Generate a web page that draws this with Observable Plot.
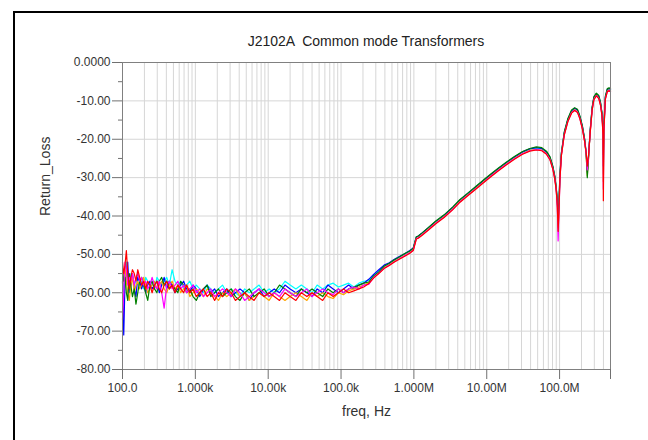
<!DOCTYPE html>
<html>
<head>
<meta charset="utf-8">
<script src="https://cdn.jsdelivr.net/npm/d3@7"></script>
<script src="https://cdn.jsdelivr.net/npm/@observablehq/plot@0.6"></script>
<style>
  html, body { margin: 0; padding: 0; background: #fff; }
  #wrap { position: relative; width: 648px; height: 440px; overflow: hidden; font-family: "Liberation Sans", Arial, sans-serif; }
  #border { position: absolute; left: 13px; top: 11px; width: 700px; height: 500px; border-left: 2px solid #000; border-top: 2px solid #000; }
  #title { position: absolute; left: 122px; width: 488px; top: 33px; text-align: center; font-size: 14px; color: #222; white-space: pre; }
  #chart { position: absolute; left: 0; top: 0; }
</style>
</head>
<body>
<div id="wrap">
  <div id="border"></div>
  <div id="chart"></div>
  <div id="title">J2102A  Common mode Transformers</div>
</div>
<script>
// ---- data ----
const seriesNames = ["cyan", "blue", "orange", "green", "magenta", "red"];
const seriesColors = ["#56b4e4", "#2b3fa6", "#ee8a22", "#3c9e34", "#e0208e", "#e8202a"];

const xTickValues = [1e2, 1e3, 1e4, 1e5, 1e6, 1e7, 1e8, 5e8];
const xTickLabels = ["100.0", "1.000k", "10.00k", "100.0k", "1.000M", "10.00M", "100.0M", "500.0M"];
const yTickValues = [0, -10, -20, -30, -40, -50, -60, -70, -80];
const yTickLabels = ["0.0000", "-10.00", "-20.00", "-30.00", "-40.00", "-50.00", "-60.00", "-70.00", "-80.00"];
const yMinorTicks = [-5, -15, -25, -35, -45, -55, -65, -75];

// frequencies (Hz), low-frequency noisy region
const fLow = [100,104,108,113,118,124,130,137,145,153,162,172,183,195,208,222,238,255,275,297,320,345,373,405,440,480,525,575,630,690,760,840,930,1030,1150,1290,1450,1630,1840,2080,2360,2700,3100,3550,4100,4750,5500,6400,7500,8800,10300,12100,14300,17000,20000,24000,28500,34000,40000,47000,56000,66000,78000,92000,108000,127000,150000,176000,205000];
// frequencies (Hz), rising / resonant region
const fHigh = [240e3,280e3,330e3,390e3,460e3,540e3,640e3,760e3,880e3,980e3,1.08e6,1.15e6,1.3e6,1.6e6,2.0e6,2.6e6,3.4e6,4.3e6,5.6e6,7.2e6,9.2e6,11.5e6,14.5e6,18.5e6,24e6,31e6,39e6,48e6,57e6,66e6,74e6,81e6,86e6,90e6,93e6,95.5e6,98e6,101e6,106e6,116e6,130e6,146e6,161e6,176e6,190e6,206e6,221e6,232e6,240e6,249e6,263e6,280e6,296e6,320e6,345e6,365e6,382e6,394e6,399e6,406e6,425e6,452e6,478e6,500e6];

// Return loss (dB) per trace — low region
const blueLow = [-57,-71,-58,-55,-52,-60,-58,-55,-59,-61,-56,-57,-59,-57,-60,-58,-57,-59,-58,-57,-60,-58,-56,-59,-57,-58,-60,-59,-58,-57,-59,-60,-58,-59,-61,-59,-58,-60,-59,-61,-60,-59,-61,-60,-59,-60,-62,-60,-59,-61,-60,-59,-60,-58,-59,-60,-59,-60,-61,-59,-60,-58,-59,-60,-59,-58,-59,-58,-57.5];
const cyanLow = [-56,-60,-54,-52,-56,-58,-55,-56,-58,-57,-55,-58,-57,-59,-56,-57,-58,-57,-59,-56,-57,-58,-57,-56,-58,-54,-57,-58,-57,-59,-58,-57,-59,-58,-59,-60,-58,-59,-60,-59,-58,-60,-59,-60,-61,-59,-60,-59,-58,-60,-59,-60,-59,-57,-58,-59,-58,-59,-60,-58,-59,-58,-57.5,-58.5,-58,-57.5,-58.5,-57.5,-57];
const greenLow = [-54,-57,-56,-60,-62,-55,-58,-61,-59,-63,-60,-57,-56,-58,-60,-62,-58,-57,-59,-60,-57,-56,-58,-57,-59,-58,-59,-60,-57,-58,-60,-59,-61,-62,-60,-59,-58,-61,-60,-59,-61,-60,-59,-61,-62,-60,-59,-61,-60,-59,-61,-60,-58,-59,-60,-61,-59,-60,-59,-60,-61,-59,-60,-59,-60,-59,-58.5,-58,-57.5];
const redLow = [-52,-55,-53,-49,-55,-59,-56,-54,-55,-57,-54,-56,-58,-57,-59,-57,-58,-60,-58,-57,-59,-60,-58,-57,-59,-58,-60,-58,-59,-60,-58,-60,-59,-61,-60,-59,-61,-60,-62,-60,-61,-59,-60,-62,-61,-60,-61,-62,-60,-61,-60,-61,-62,-60,-61,-62,-60,-61,-60,-61,-62,-60,-61,-60,-59,-60,-59.5,-59,-58.5];
const magentaLow = [-67,-60,-52,-54,-58,-56,-57,-55,-58,-56,-55,-57,-56,-58,-57,-59,-58,-56,-58,-59,-57,-60,-64,-58,-57,-59,-58,-57,-59,-58,-60,-59,-58,-60,-59,-61,-60,-59,-61,-60,-59,-60,-61,-59,-60,-62,-61,-60,-59,-60,-61,-60,-61,-59,-60,-61,-60,-59,-61,-60,-59,-60,-60.5,-59,-60,-59,-58.5,-59,-58];
const orangeLow = [-58,-56,-53,-57,-60,-62,-58,-56,-60,-58,-57,-59,-58,-56,-58,-60,-59,-58,-57,-59,-58,-57,-59,-60,-58,-57,-59,-58,-60,-59,-58,-61,-60,-59,-60,-61,-59,-60,-61,-62,-60,-61,-60,-59,-61,-60,-62,-61,-60,-61,-62,-60,-61,-62,-61,-60,-61,-62,-60,-61,-60,-61,-61.5,-60,-60.5,-59.5,-59,-58.5,-58];

// Return loss (dB) per trace — high region
const blueHigh = [-56.5,-55.2,-54.0,-52.8,-52.2,-51.3,-50.5,-49.8,-49.0,-48.3,-45.5,-45.2,-44.4,-43.0,-41.4,-39.8,-37.8,-35.8,-34.0,-32.3,-30.6,-29.1,-27.6,-26.1,-24.6,-23.3,-22.5,-22.2,-22.4,-23.3,-24.8,-27.3,-29.8,-32.8,-36.0,-41.0,-37.0,-29.5,-23.6,-18.3,-14.8,-12.6,-11.9,-12.4,-14.1,-16.8,-20.0,-23.5,-28.5,-24.6,-17.8,-11.8,-9.1,-8.1,-8.8,-10.6,-13.3,-17.5,-27.0,-16.5,-9.0,-7.0,-6.8,-7.0];
const cyanHigh = [-56.8,-55.5,-54.3,-53.0,-52.4,-51.5,-50.6,-49.9,-49.2,-48.5,-45.5,-45.3,-44.5,-43.1,-41.5,-39.9,-37.9,-35.9,-34.1,-32.4,-30.7,-29.2,-27.7,-26.2,-24.7,-23.4,-22.6,-22.3,-22.5,-23.4,-24.9,-27.4,-29.9,-32.9,-36.2,-41.5,-37.5,-29.8,-23.7,-18.4,-14.9,-12.7,-12.0,-12.5,-14.2,-16.9,-20.2,-23.8,-28.8,-24.8,-17.9,-11.9,-9.2,-8.2,-8.9,-10.7,-13.4,-17.8,-29.0,-16.8,-9.1,-7.1,-6.9,-7.1];
const greenHigh = [-57.2,-55.6,-54.6,-53.1,-52.3,-51.4,-50.6,-49.7,-49.1,-48.4,-45.4,-45.2,-44.4,-42.9,-41.3,-39.7,-37.7,-35.7,-33.9,-32.2,-30.5,-29.0,-27.5,-26.0,-24.5,-23.2,-22.4,-22.0,-22.2,-23.1,-24.6,-27.1,-29.6,-32.6,-35.8,-40.0,-36.5,-29.2,-23.4,-18.1,-14.6,-12.4,-11.8,-12.2,-13.9,-16.6,-20.0,-24.2,-30.0,-25.5,-17.6,-11.6,-8.9,-8.0,-8.6,-10.4,-13.1,-17.2,-24.0,-16.0,-8.8,-6.8,-6.6,-6.8];
const orangeHigh = [-57.4,-56.0,-54.8,-53.5,-52.7,-51.8,-51.0,-50.2,-49.5,-48.8,-45.8,-45.6,-44.8,-43.4,-41.8,-40.2,-38.2,-36.2,-34.4,-32.7,-31.0,-29.5,-28.0,-26.5,-25.0,-23.7,-22.9,-22.6,-22.8,-23.7,-25.2,-27.7,-30.2,-33.2,-36.8,-43.0,-38.5,-30.3,-24.0,-18.7,-15.2,-13.0,-12.3,-12.8,-14.5,-17.2,-20.5,-24.2,-29.5,-25.2,-18.2,-12.2,-9.5,-8.5,-9.2,-11.0,-13.7,-18.3,-31.0,-17.3,-9.4,-7.4,-7.2,-7.4];
const redHigh = [-57.6,-56.2,-55.0,-53.7,-52.9,-52.0,-51.2,-50.4,-49.7,-49.0,-46.0,-45.8,-45.0,-43.6,-42.0,-40.4,-38.4,-36.4,-34.6,-32.9,-31.2,-29.7,-28.2,-26.7,-25.2,-23.9,-23.1,-22.8,-23.0,-23.9,-25.4,-27.9,-30.4,-33.4,-37.2,-44.0,-39.0,-30.6,-24.2,-18.9,-15.4,-13.2,-12.5,-13.0,-14.7,-17.4,-20.6,-23.6,-27.0,-24.5,-18.4,-12.4,-9.7,-8.7,-9.4,-11.2,-13.9,-18.8,-36.0,-17.8,-9.6,-7.6,-7.4,-7.6];
const magentaHigh = [-57.8,-56.0,-54.9,-53.6,-52.8,-51.9,-51.1,-50.3,-49.6,-48.9,-45.9,-45.7,-44.9,-43.5,-41.9,-40.3,-38.3,-36.3,-34.5,-32.8,-31.1,-29.6,-28.1,-26.6,-25.1,-23.8,-23.0,-22.7,-22.9,-23.8,-25.3,-27.8,-30.3,-33.3,-37.5,-46.5,-39.5,-30.8,-24.1,-18.8,-15.3,-13.1,-12.4,-12.9,-14.6,-17.3,-20.6,-23.8,-28.0,-24.8,-18.3,-12.3,-9.6,-8.6,-9.3,-11.1,-13.8,-18.6,-33.0,-17.6,-9.5,-7.5,-7.3,-7.5];

// ---- build table ----
const lowBy = {cyan: cyanLow, blue: blueLow, orange: orangeLow, green: greenLow, magenta: magentaLow, red: redLow};
const highBy = {cyan: cyanHigh, blue: blueHigh, orange: orangeHigh, green: greenHigh, magenta: magentaHigh, red: redHigh};
const rows = [];
for (const s of seriesNames) {
  const lo = lowBy[s], hi = highBy[s];
  for (let i = 0; i < Math.min(lo.length, fLow.length); i++) rows.push({s, f: fLow[i], v: lo[i]});
  for (let i = 0; i < Math.min(hi.length, fHigh.length); i++) rows.push({s, f: fHigh[i], v: hi[i]});
}

// vertical grid at 1..9 x each decade
const xGrid = [];
for (let d = 100; d <= 1e8; d *= 10) for (let k = 1; k <= 9; k++) if (k * d <= 5e8) xGrid.push(k * d);

const chart = Plot.plot({
  width: 648,
  height: 440,
  marginLeft: 122,
  marginRight: 38,
  marginTop: 62,
  marginBottom: 71,
  x: {type: "log", domain: [100, 5e8]},
  y: {domain: [-80, 0]},
  color: {domain: seriesNames, range: seriesColors},
  style: {fontFamily: "'Liberation Sans', Arial, sans-serif", fontSize: "12px", color: "#333", background: "transparent", overflow: "visible"},
  marks: [
    Plot.ruleX(xGrid, {stroke: "#d6d6d6", strokeWidth: 1}),
    Plot.ruleY(yTickValues, {stroke: "#d6d6d6", strokeWidth: 1}),
    Plot.line(rows, {x: "f", y: "v", z: "s", stroke: "s", strokeWidth: 1.2}),
    Plot.frame({stroke: "#808080"}),
    Plot.axisX(xTickValues, {tickSize: 10, tickPadding: 4, stroke: "#707070", fill: "#333", fontSize: 12, label: null,
      tickFormat: d => xTickLabels[xTickValues.indexOf(d)]}),
    Plot.axisY(yTickValues, {tickSize: 10, tickPadding: 2, stroke: "#707070", fill: "#333", fontSize: 12, label: null,
      tickFormat: d => yTickLabels[yTickValues.indexOf(d)]}),
    Plot.axisY(yMinorTicks, {tickSize: 4, stroke: "#707070", label: null, tickFormat: () => ""}),
    Plot.text(["Return_Loss"], {frameAnchor: "left", rotate: -90, dx: -77, fontSize: 14, fill: "#333"}),
    Plot.text(["freq, Hz"], {frameAnchor: "bottom", dy: 46, fontSize: 14, fill: "#333"})
  ]
});
document.getElementById("chart").appendChild(chart);
</script>
</body>
</html>
